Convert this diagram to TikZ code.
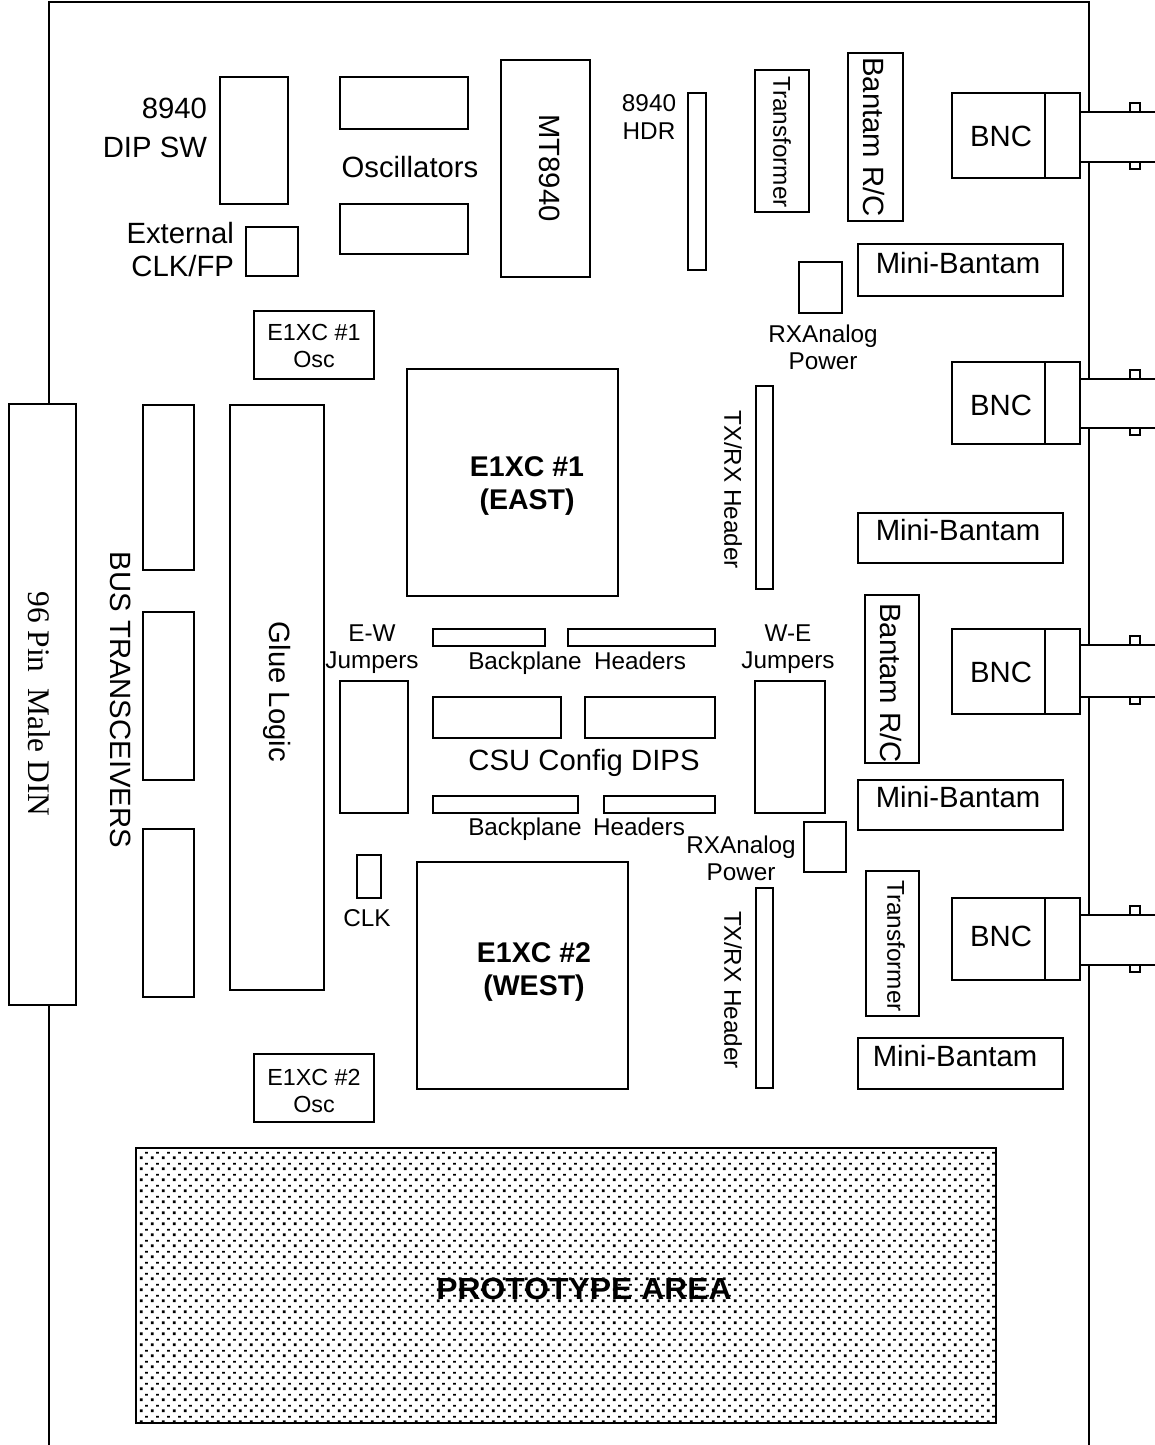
\documentclass[tikz,border=0pt]{standalone}
\usepackage{fontspec}
\setmainfont{Liberation Sans}
\newfontfamily\serifx{Liberation Serif}
\usetikzlibrary{patterns}
\pgfdeclarepatternformonly{protodots}{\pgfqpoint{0pt}{0pt}}{\pgfqpoint{10.67pt}{10.67pt}}{\pgfqpoint{10.67pt}{10.67pt}}{%
  \pgfpathrectangle{\pgfqpoint{1pt}{1pt}}{\pgfqpoint{2.8pt}{2.8pt}}%
  \pgfpathrectangle{\pgfqpoint{6.3pt}{6.6pt}}{\pgfqpoint{2.8pt}{1.7pt}}%
  \pgfusepath{fill}}
\tikzset{
  board/.style={line width=2pt,line cap=butt},
  part/.style={draw=black,line width=2pt,fill=white,inner sep=0pt,outer sep=0pt,align=center},
  lbl/.style={inner sep=0pt,outer sep=0pt,align=center,font=\fontsize{24.3}{27.5}\selectfont},
  lblbig/.style={lbl,font=\fontsize{29.3}{33}\selectfont},
  chip/.style={lbl,font=\bfseries\fontsize{28.5}{33.5}\selectfont},
  rot/.style={rotate=-90},
}
\begin{document}
\begin{tikzpicture}[x=1pt,y=-1pt]
\useasboundingbox (0,0) rectangle (1155,1445);
% board outline
\draw[board] (49,403) -- (49,2) -- (1089,2) -- (1089,112);
\draw[board] (49,1005) -- (49,1445);
\draw[board] (1089,162) -- (1089,379);
\draw[board] (1089,428) -- (1089,645);
\draw[board] (1089,697) -- (1089,915);
\draw[board] (1089,965) -- (1089,1445);
% left column
\node[part,minimum width=67pt,minimum height=601pt] (din) at (42.5,704.5) {};
\node[rot,font=\serifx\fontsize{31.4}{34}\selectfont,inner sep=0pt] (dint) at (39,704) {96 Pin\ \ Male DIN};
\node[part,minimum width=51pt,minimum height=165pt] (bt1) at (168.5,487.5) {};
\node[part,minimum width=51pt,minimum height=168pt] (bt2) at (168.5,696) {};
\node[part,minimum width=51pt,minimum height=168pt] (bt3) at (168.5,913) {};
\node[lblbig,rot] (btt) at (121,700) {BUS TRANSCEIVERS};
\node[part,minimum width=94pt,minimum height=585pt] (glue) at (277,697.5) {};
\node[lblbig,rot] (gluet) at (277.5,692) {Glue Logic};
% top row
\node[part,minimum width=68pt,minimum height=127pt] (dip) at (254,140.5) {};
\node[lblbig,anchor=east,align=right] (dipt) at (207,127.5) {8940\\[6pt]DIP SW};
\node[part,minimum width=128pt,minimum height=52pt] (osc1) at (404,103) {};
\node[part,minimum width=128pt,minimum height=50pt] (osc2) at (404,229) {};
\node[lblbig] (osct) at (410,167) {Oscillators};
\node[part,minimum width=89pt,minimum height=217pt] (mt) at (545.5,168.5) {};
\node[lblbig,rot] (mtt) at (549.5,168) {MT8940};
\node[lbl] (hdrt) at (649,117) {8940\\HDR};
\node[part,minimum width=18pt,minimum height=177pt] (hdr) at (697,181.5) {};
\node[part,minimum width=54pt,minimum height=142pt] (tr1) at (782,141) {};
\node[lbl,rot] (tr1t) at (782,142) {Transformer};
\node[part,minimum width=55pt,minimum height=167pt] (br1) at (875.5,137) {};
\node[lblbig,rot] (br1t) at (874,137) {Bantam R/C};
\node[part,minimum width=52pt,minimum height=49pt] (ext) at (272,251.5) {};
\node[lblbig,anchor=east,align=right] (extt) at (234,250) {External\\CLK/FP};
\node[part,minimum width=43pt,minimum height=51pt] (rx1) at (820.5,287.5) {};
\node[lbl] (rx1t) at (823,347.5) {RXAnalog\\Power};
\node[part,minimum width=120pt,minimum height=68pt] (o1) at (314,345) {};
\node[lbl,font=\fontsize{23.3}{27}\selectfont] (o1t) at (314,346) {E1XC \#1\\Osc};
\node[part,minimum width=120pt,minimum height=68pt] (o2) at (314,1088) {};
\node[lbl,font=\fontsize{23.3}{27}\selectfont] (o2t) at (314,1090.5) {E1XC \#2\\Osc};
% mini-bantam
\node[part,minimum width=205pt,minimum height=52pt] (mb1) at (960.5,270) {};
\node[lblbig] (mb1t) at (958,263) {Mini-Bantam};
\node[part,minimum width=205pt,minimum height=50pt] (mb2) at (960.5,538) {};
\node[lblbig] (mb2t) at (958,530) {Mini-Bantam};
\node[part,minimum width=205pt,minimum height=50pt] (mb3) at (960.5,805) {};
\node[lblbig] (mb3t) at (958,797) {Mini-Bantam};
\node[part,minimum width=205pt,minimum height=51pt] (mb4) at (960.5,1063.5) {};
\node[lblbig] (mb4t) at (955,1056) {Mini-Bantam};
% chips
\node[part,minimum width=211pt,minimum height=227pt] (c1) at (512.5,482.5) {};
\node[chip] (c1t) at (527,486) {E1XC \#1\\(EAST)};
\node[part,minimum width=211pt,minimum height=227pt] (c2) at (522.5,975.5) {};
\node[chip] (c2t) at (534,972) {E1XC \#2\\(WEST)};
% headers
\node[part,minimum width=17pt,minimum height=203pt] (tx1) at (764.5,487.5) {};
\node[lbl,rot] (tx1t) at (733,490) {TX/RX Header};
\node[part,minimum width=17pt,minimum height=200pt] (tx2) at (764.5,988) {};
\node[lbl,rot] (tx2t) at (733,990) {TX/RX Header};
\node[part,minimum width=54pt,minimum height=168pt] (br2) at (892,679) {};
\node[lblbig,rot] (br2t) at (891,683) {Bantam R/C};
\node[part,minimum width=112pt,minimum height=17pt] (bp1) at (489,637.5) {};
\node[part,minimum width=147pt,minimum height=17pt] (bp2) at (641.5,637.5) {};
\node[lbl] (bp1t) at (525,663) {Backplane};
\node[lbl] (bp2t) at (640,661) {Headers};
\node[lbl] (ewt) at (372,649) {E-W\\Jumpers};
\node[part,minimum width=68pt,minimum height=132pt] (ew) at (374,747) {};
\node[lbl] (wet) at (788,649) {W-E\\Jumpers};
\node[part,minimum width=70pt,minimum height=132pt] (we) at (790,747) {};
\node[part,minimum width=128pt,minimum height=41pt] (csu1) at (497,717.5) {};
\node[part,minimum width=130pt,minimum height=41pt] (csu2) at (650,717.5) {};
\node[lblbig] (csut) at (584,763) {CSU Config DIPS};
\node[part,minimum width=145pt,minimum height=17pt] (bp3) at (505.5,804.5) {};
\node[part,minimum width=111pt,minimum height=17pt] (bp4) at (659.5,804.5) {};
\node[lbl] (bp3t) at (525,829) {Backplane};
\node[lbl] (bp4t) at (639,827) {Headers};
\node[part,minimum width=42pt,minimum height=50pt] (rx2) at (825,847) {};
\node[lbl] (rx2t) at (741,858.5) {RXAnalog\\Power};
\node[part,minimum width=24pt,minimum height=43pt] (clk) at (369,876.5) {};
\node[lbl] (clkt) at (367,918.5) {CLK};
\node[part,minimum width=53pt,minimum height=145pt] (tr2) at (892.5,943.5) {};
\node[lbl,rot] (tr2t) at (896,946) {Transformer};
% BNC connectors
\foreach \n/\t/\b/\u/\l/\ty in {a/93/178/112/162/136,b/362/444/379/428/405,c/629/714/645/697/672,d/898/980/915/965/936}{
  \draw[board,fill=white] (1130,\u) rectangle (1140,{\u-9.5});
  \draw[board,fill=white] (1130,\l) rectangle (1140,{\l+7});
  \draw[board] (1080,\u) -- (1155,\u);
  \draw[board] (1080,\l) -- (1155,\l);
  \node[part,minimum width=128pt,minimum height={(\b-\t)*1pt}] (bnc\n) at (1016,{(\t+\b)/2}) {};
  \draw[line width=2pt] (bnc\n.north west) ++(93,0) coordinate (dv\n) -- (dv\n |- bnc\n.south);
  \node[lblbig] (bnc\n t) at (1001,\ty) {BNC};
}
% prototype area
\path[pattern=protodots] (136,1148) rectangle (996,1423);
\node[part,fill=none,minimum width=860pt,minimum height=275pt] (proto) at (566,1285.5) {};
\node[chip,font=\bfseries\fontsize{30.5}{33}\selectfont,xscale=1.045] (protot) at (584,1289) {PROTOTYPE AREA};
\end{tikzpicture}
\end{document}
